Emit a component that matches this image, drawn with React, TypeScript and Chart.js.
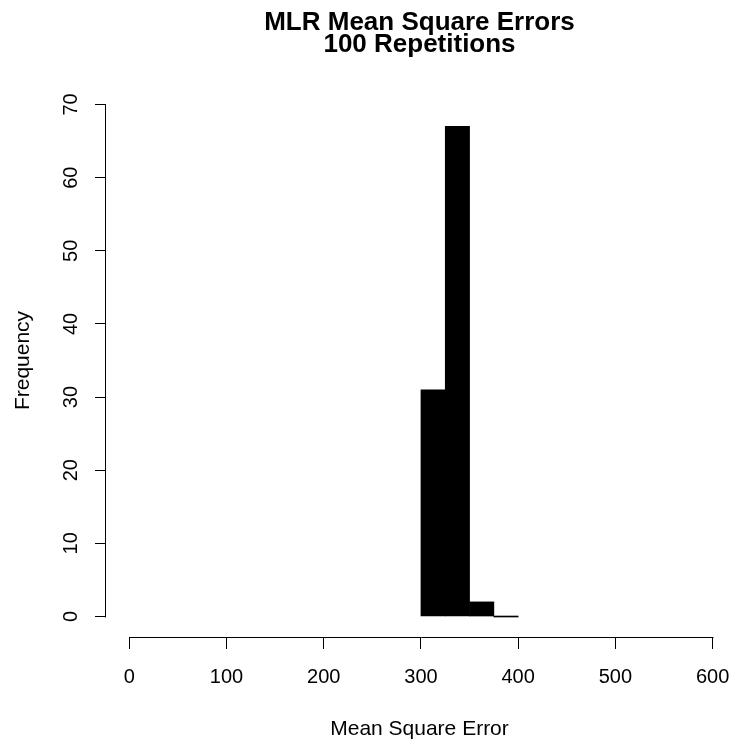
import React, { useEffect, useRef } from "react";
import { Chart, registerables } from "chart.js";

Chart.register(...registerables);

const titleLines = ["MLR Mean Square Errors", "100 Repetitions"];
const xAxisTitle = "Mean Square Error";
const yAxisTitle = "Frequency";
const binBreaks = [300, 325, 350, 375, 400];
const binCounts = [31, 67, 2, 0];
const xTickValues = [0, 100, 200, 300, 400, 500, 600];
const yTickValues = [0, 10, 20, 30, 40, 50, 60, 70];

const FONT = "'Liberation Sans', Arial, Helvetica, sans-serif";
const W = 733;
const H = 745;

const axisLinesPlugin = {
  id: "rAxisLines",
  afterDraw(chart: any) {
    const { ctx, chartArea, scales } = chart;
    const xs = scales.x;
    const ys = scales.y;
    ctx.save();
    ctx.strokeStyle = "#000";
    ctx.lineWidth = 1;
    ctx.beginPath();
    const yb = Math.round(chartArea.bottom) + 0.5;
    ctx.moveTo(Math.round(xs.getPixelForValue(xTickValues[0])) + 0.5, yb);
    ctx.lineTo(Math.round(xs.getPixelForValue(xTickValues[xTickValues.length - 1])) + 0.5, yb);
    const xl = Math.round(chartArea.left) - 0.5;
    ctx.moveTo(xl, Math.round(ys.getPixelForValue(yTickValues[0])) + 0.5);
    ctx.lineTo(xl, Math.round(ys.getPixelForValue(yTickValues[yTickValues.length - 1])) + 0.5);
    ctx.stroke();
    ctx.restore();
  },
};

export default function App() {
  const ref = useRef<HTMLCanvasElement | null>(null);

  useEffect(() => {
    if (!ref.current) return;
    const data = binCounts.map((c, i) => ({
      x: (binBreaks[i] + binBreaks[i + 1]) / 2,
      y: c,
    }));
    const chart = new Chart(ref.current, {
      type: "bar",
      data: {
        datasets: [
          {
            data: data as any,
            backgroundColor: "#000",
            borderWidth: 0,
            barPercentage: 1,
            categoryPercentage: 1,
            minBarLength: 1,
          },
        ],
      },
      options: {
        responsive: false,
        animation: false,
        devicePixelRatio: 1,
        layout: { padding: 0 },
        plugins: {
          legend: { display: false },
          tooltip: { enabled: false },
          title: {
            display: true,
            text: titleLines,
            fullSize: false,
            color: "#000",
            font: { family: FONT, size: 26, weight: "bold", lineHeight: 0.831 },
            padding: { top: 12.3, bottom: 28.5 },
          },
        },
        scales: {
          x: {
            type: "linear",
            min: -24,
            max: 621,
            offset: false,
            border: { display: false },
            grid: {
              display: true,
              offset: false,
              drawOnChartArea: false,
              drawTicks: true,
              tickLength: 12,
              color: "#000",
              lineWidth: 1,
            },
            ticks: {
              autoSkip: false,
              maxRotation: 0,
              minRotation: 0,
              padding: 16.4,
              color: "#000",
              font: { family: FONT, size: 20 },
              callback: (v: any) => String(v),
            },
            afterBuildTicks: (scale: any) => {
              scale.ticks = xTickValues.map((v) => ({ value: v }));
            },
            afterFit: (scale: any) => {
              scale.height = 108;
              scale.paddingLeft = 0;
              scale.paddingRight = 0;
              scale.paddingTop = 0;
              scale.paddingBottom = 0;
            },
            title: {
              display: true,
              text: xAxisTitle,
              color: "#000",
              font: { family: FONT, size: 21 },
              padding: { top: 0, bottom: 3.4 },
            },
          },
          y: {
            type: "linear",
            min: -2.8,
            max: 72.8,
            offset: false,
            border: { display: false },
            grid: {
              display: true,
              offset: false,
              drawOnChartArea: false,
              drawTicks: true,
              tickLength: 11,
              color: "#000",
              lineWidth: 1,
            },
            ticks: {
              autoSkip: false,
              minRotation: 90,
              maxRotation: 90,
              crossAlign: "center",
              padding: 12.5,
              color: "#000",
              font: { family: FONT, size: 20 },
              callback: (v: any) => String(v),
            },
            afterBuildTicks: (scale: any) => {
              scale.ticks = yTickValues.map((v) => ({ value: v }));
            },
            afterFit: (scale: any) => {
              scale.width = 106;
              scale.paddingLeft = 0;
              scale.paddingRight = 0;
              scale.paddingTop = 0;
              scale.paddingBottom = 0;
            },
            title: {
              display: true,
              text: yAxisTitle,
              color: "#000",
              font: { family: FONT, size: 21 },
              padding: { top: 10.5, bottom: 0 },
            },
          },
        },
      },
      plugins: [axisLinesPlugin],
    });
    return () => chart.destroy();
  }, []);

  return (
    <div style={{ position: "absolute", left: 0, top: 0, width: W, height: H, background: "#fff" }}>
      <canvas ref={ref} width={W} height={H} style={{ display: "block" }} />
    </div>
  );
}
